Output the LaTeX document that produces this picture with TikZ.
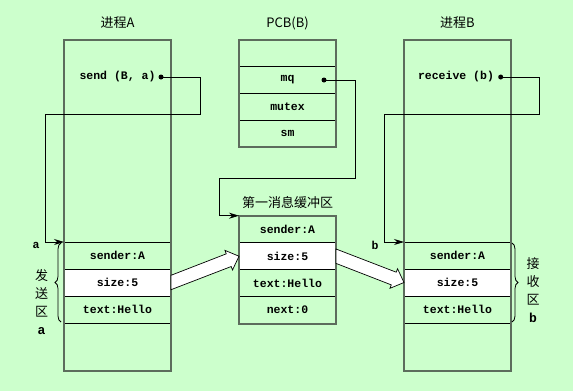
\documentclass[tikz,border=0pt]{standalone}
\usepackage{fontspec}
\setmonofont{Liberation Mono}
\newfontfamily\cjk{Noto Sans CJK SC}
\usetikzlibrary{positioning, calc, fit, arrows.meta, decorations.pathreplacing}
\definecolor{bg}{RGB}{204,255,204}
\definecolor{frame}{RGB}{92,108,92}
\tikzset{
	cell/.style={draw=black, line width=0.8pt, minimum width=107pt, minimum height=27pt, inner sep=0pt, outer sep=0pt, font=\ttfamily\bfseries\fontsize{11.5}{11.5}\selectfont},
	proc/.style={draw=frame, line width=1.6pt, inner sep=0pt, outer sep=0pt},
	code/.style={font=\ttfamily\bfseries\fontsize{11.5}{11.5}\selectfont},
	title/.style={font=\cjk\fontsize{13}{13}\selectfont},
	side/.style={font=\cjk\fontsize{13}{18}\selectfont, align=center},
	dot/.style={circle, fill, inner sep=0pt, minimum size=5pt},
	link/.style={draw, line width=0.8pt, -{Stealth[length=10pt, width=6pt]}},
	fat/.style={draw, fill=white, line width=0.7pt, line join=miter},
	area/.style={decorate, decoration={brace, amplitude=6pt}, line width=0.8pt},
}
% hollow arrow from #1 to #2
\newcommand{\fatArrow}[2]{
	\coordinate (h) at ($(#2)!11pt!(#1)$);
	\draw[fat] ($(#1)+(0,-7.2)$) -- ($(h)!6.8pt!90:(#2)$) -- ($(h)!10.5pt!90:(#2)$) -- (#2)
		-- ($(h)!10.5pt!-90:(#2)$) -- ($(h)!6.8pt!-90:(#2)$) -- ($(#1)+(0,7.2)$) -- cycle;
}

\begin{document}
\begin{tikzpicture}[x=1pt, y=-1pt]
	\useasboundingbox (0,0) rectangle (573,391);
	\fill[bg] (0,0) rectangle (573,391);
		% process A
		\node[title] (tA) at (117.5, 23) {进程A};
		\node[cell] (a1) at (117.5, 255.5) {sender:A};
		\node[cell, fill=white, below=0pt of a1] (a2) {size:5};
		\node[cell, below=0pt of a2] (a3) {text:Hello};
		\node[proc, minimum width=107pt, minimum height=331pt] (pA) at (117.5, 205.5) {};
		\node[code] (sendA) at (117.5, 77) {send (B, a)};
		\node[dot] (dA) at (161, 77) {};
		% PCB of B
		\node[title] (tP) at (287.5, 23) {PCB(B)};
		\node[cell, minimum width=97pt, minimum height=26.7pt] (p0) at (287.5, 53.35) {};
		\node[cell, minimum width=97pt, minimum height=26.7pt, below=0pt of p0] (p1) {mq};
		\node[cell, minimum width=97pt, minimum height=26.7pt, below=0pt of p1] (p2) {mutex};
		\node[cell, minimum width=97pt, minimum height=26.7pt, below=0pt of p2] (p3) {sm};
		\node[proc, fit=(p0)(p3)] (pcb) {};
		\node[dot] (dP) at (324, 80) {};
		% first message buffer
		\node[title] (tM) at (287.5, 202.7) {第一消息缓冲区};
		\node[cell, minimum width=97pt] (m1) at (287.5, 229.2) {sender:A};
		\node[cell, minimum width=97pt, fill=white, below=0pt of m1] (m2) {size:5};
		\node[cell, minimum width=97pt, below=0pt of m2] (m3) {text:Hello};
		\node[cell, minimum width=97pt, below=0pt of m3] (m4) {next:0};
		\node[proc, fit=(m1)(m4)] (buf) {};
		% process B
		\node[title] (tB) at (457.5, 23) {进程B};
		\node[cell] (b1) at (457.5, 255.5) {sender:A};
		\node[cell, fill=white, below=0pt of b1] (b2) {size:5};
		\node[cell, below=0pt of b2] (b3) {text:Hello};
		\node[proc, minimum width=107pt, minimum height=331pt] (pB) at (457.5, 205.5) {};
		\node[code] (recvB) at (456, 77) {receive (b)};
		\node[dot] (dB) at (500.7, 77) {};
		% pointers
		\draw[link] (dA.center) -| ++(39,37.7) -| ($(a1.north west)+(-19,0)$) -- (a1.north west);
		\draw[link] (dP.center) -| ++(31.7,98.7) -| ($(m1.north west)+(-20,0)$) -- (m1.north west);
		\draw[link] (dB.center) -| ++(39,37.7) -| ($(b1.north west)+(-19.3,0)$) -- (b1.north west);
		% copying the message
		\fatArrow{a2.east}{m2.west}
		\fatArrow{m2.east}{b2.west}
		% send and receive areas
		\draw[area] ($(a3.south west)+(-3,-1)$) -- ($(a1.north west)+(-3,1)$);
		\draw[area] ($(b1.north east)+(1,1)$) -- ($(b3.south east)+(1,-1)$);
		\node[code] (la) at (36, 245) {a};
		\node[code] (lb) at (375, 245) {b};
		\node[side] (sendArea) at (41.5, 302) {发\\送\\区\\{\ttfamily\bfseries a}};
		\node[side] (recvArea) at (533, 290) {接\\收\\区\\{\ttfamily\bfseries b}};
\end{tikzpicture}
\end{document}
